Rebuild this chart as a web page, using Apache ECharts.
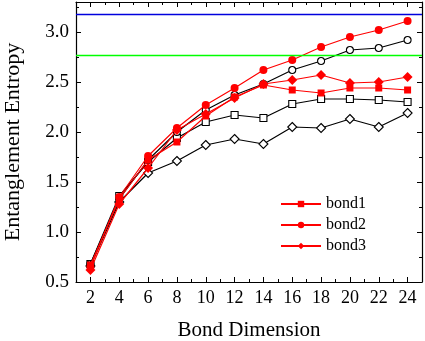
<!DOCTYPE html>
<html>
<head>
<meta charset="utf-8">
<script src="https://cdn.jsdelivr.net/npm/echarts@6/dist/echarts.min.js"></script>
<style>
  html, body { margin: 0; padding: 0; background: #fff; }
  #chart { width: 425px; height: 341px; }
</style>
</head>
<body>
<div id="chart"></div>
<script>
// bond dimension values on the x axis
const dims = [2, 4, 6, 8, 10, 12, 14, 16, 18, 20, 22, 24];

// red filled series
const bond1 = [0.67, 1.33, 1.72, 1.90, 2.16, 2.35, 2.47, 2.42, 2.39, 2.44, 2.44, 2.42];
const bond2 = [0.65, 1.35, 1.76, 2.04, 2.27, 2.44, 2.62, 2.72, 2.85, 2.95, 3.02, 3.11];
const bond3 = [0.62, 1.28, 1.64, 2.02, 2.18, 2.34, 2.48, 2.52, 2.57, 2.49, 2.50, 2.55];

// black open series
const openSquare = [0.68, 1.36, 1.70, 1.94, 2.10, 2.17, 2.14, 2.28, 2.33, 2.33, 2.32, 2.30];
const openCircle = [0.68, 1.33, 1.72, 2.00, 2.22, 2.37, 2.48, 2.62, 2.71, 2.82, 2.84, 2.92];
const openDiamond = [0.66, 1.30, 1.59, 1.71, 1.87, 1.93, 1.88, 2.05, 2.04, 2.13, 2.05, 2.19];

// horizontal reference levels
const refBlue = 3.178;
const refGreen = 2.773;

// tick labels
const xTicks = [2, 4, 6, 8, 10, 12, 14, 16, 18, 20, 22, 24];
const yTicks = [0.5, 1.0, 1.5, 2.0, 2.5, 3.0];

const font = "Liberation Serif";
const pairs = (ys) => dims.map((d, i) => [d, ys[i]]);

function majorX(pos, labels) {
  return {
    type: "value", position: pos, min: 1, max: 25,
    axisLine: { show: true, onZero: false, lineStyle: { color: "#000", width: 1.2 } },
    axisTick: { show: true, inside: true, length: 5, customValues: xTicks, lineStyle: { color: "#000" } },
    axisLabel: { show: labels, customValues: xTicks, fontFamily: font, fontSize: 18, color: "#000", margin: 7 },
    splitLine: { show: false }
  };
}
function minorX(pos) {
  return {
    type: "value", position: pos, min: 1, max: 25, interval: 1,
    axisLine: { show: false, onZero: false },
    axisTick: { show: true, inside: true, length: 3, lineStyle: { color: "#000" } },
    axisLabel: { show: false },
    splitLine: { show: false }
  };
}
function majorY(pos, labels) {
  return {
    type: "value", position: pos, min: 0.5, max: 3.3,
    axisLine: { show: true, onZero: false, lineStyle: { color: "#000", width: 1.2 } },
    axisTick: { show: true, inside: true, length: 5, customValues: yTicks, lineStyle: { color: "#000" } },
    axisLabel: {
      show: labels, customValues: yTicks, fontFamily: font, fontSize: 19, color: "#000", margin: 7,
      formatter: (v) => v.toFixed(1)
    },
    splitLine: { show: false }
  };
}
function minorY(pos) {
  return {
    type: "value", position: pos, min: 0.5, max: 3.3, interval: 0.25,
    axisLine: { show: false, onZero: false },
    axisTick: { show: true, inside: true, length: 3, lineStyle: { color: "#000" } },
    axisLabel: { show: false },
    splitLine: { show: false }
  };
}

function redSeries(name, ys, symbol, size) {
  return {
    name: name, type: "line", data: pairs(ys), symbol: symbol, symbolSize: size,
    lineStyle: { color: "#ff0000", width: 1.2 },
    itemStyle: { color: "#ff0000", borderWidth: 0 },
    z: 3
  };
}
function blackSeries(name, ys, symbol, size) {
  return {
    name: name, type: "line", data: pairs(ys), symbol: symbol, symbolSize: size,
    lineStyle: { color: "#000", width: 1.2 },
    itemStyle: { color: "#fff", borderColor: "#000", borderWidth: 1.1 },
    z: 2
  };
}
function refLine(series, value, color) {
  series.markLine = {
    silent: true, symbol: "none", animation: false,
    label: { show: false },
    lineStyle: { color: color, width: 1.3, type: "solid", opacity: 1 },
    emphasis: { disabled: true },
    data: [{ yAxis: value }]
  };
  return series;
}

const chart = echarts.init(document.getElementById("chart"));
const xb = majorX("bottom", true);
xb.name = "Bond Dimension";
xb.nameLocation = "middle";
xb.nameGap = 38;
xb.nameTextStyle = { fontFamily: font, fontSize: 21, color: "#000" };
const yl = majorY("left", true);
yl.name = "Entanglement Entropy";
yl.nameLocation = "middle";
yl.nameGap = 52;
yl.nameTextStyle = { fontFamily: font, fontSize: 22, color: "#000" };

chart.setOption({
  animation: false,
  grid: { left: 76, right: 3, top: 2, bottom: 59, outerBoundsMode: "none", containLabel: false },
  legend: {
    data: ["bond1", "bond2", "bond3"],
    orient: "vertical", left: 275, top: 191,
    itemWidth: 40, itemHeight: 8, itemGap: 5,
    textStyle: { fontFamily: font, fontSize: 16, color: "#000" }
  },
  xAxis: [xb, minorX("bottom"), majorX("top", false), minorX("top")],
  yAxis: [yl, minorY("left"), majorY("right", false), minorY("right")],
  series: [
    refLine(blackSeries("s4", openSquare, "rect", 7), refBlue, "#0000dd"),
    refLine(blackSeries("s5", openCircle, "circle", 7), refGreen, "#00ff00"),
    blackSeries("s6", openDiamond, "diamond", 9),
    redSeries("bond1", bond1, "rect", 7),
    redSeries("bond2", bond2, "circle", 8),
    redSeries("bond3", bond3, "diamond", 10)
  ]
});
</script>
</body>
</html>
